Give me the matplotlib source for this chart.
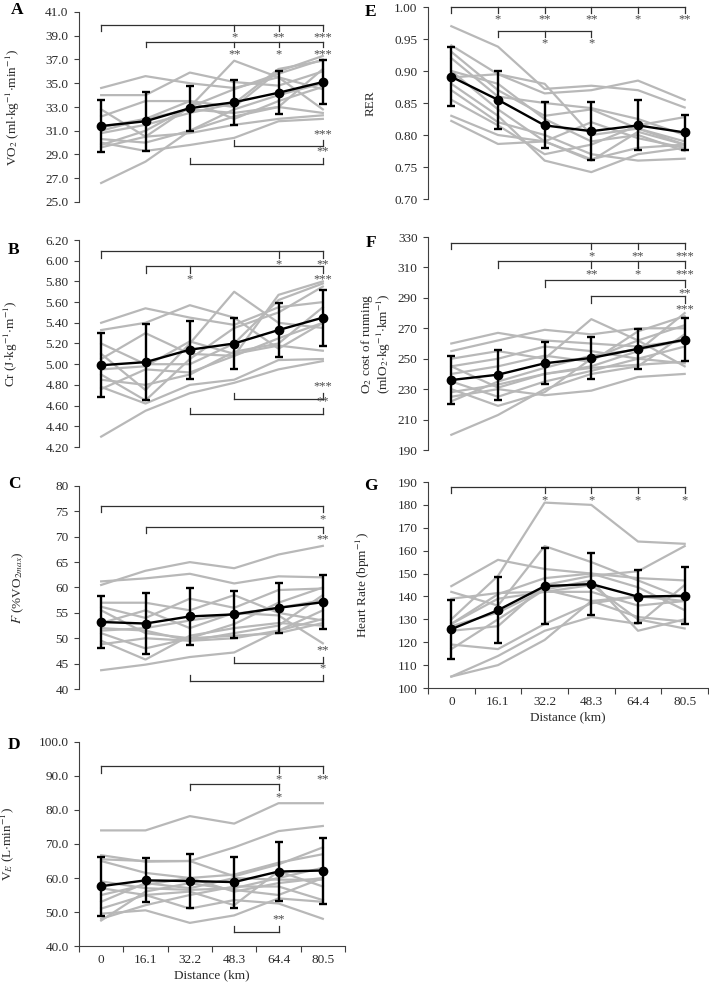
import matplotlib
matplotlib.use("Agg")
import matplotlib.pyplot as plt
import numpy as np

plt.rcParams['font.family'] = ['Liberation Serif', 'DejaVu Serif']
plt.rcParams['mathtext.fontset'] = 'stix'

distance = ["0", "16.1", "32.2", "48.3", "64.4", "80.5"]

# A - VO2
vo2_mean = [31.4, 31.8, 32.9, 33.4, 34.2, 35.1]
vo2_sd = [2.2, 2.5, 1.9, 1.9, 1.8, 1.85]
vo2_subjects = [
    [34.6, 35.6, 35.0, 34.6, 35.5, 34.5],
    [34.0, 34.0, 35.9, 35.1, 34.8, 36.0],
    [32.8, 30.5, 33.0, 36.9, 35.5, 32.8],
    [32.2, 33.5, 33.5, 33.0, 36.0, 37.3],
    [31.3, 32.0, 32.8, 32.5, 33.0, 32.5],
    [30.8, 31.5, 32.5, 33.3, 36.2, 36.9],
    [30.3, 30.0, 31.0, 32.8, 34.0, 35.0],
    [30.0, 29.3, 29.8, 30.4, 31.8, 32.0],
    [29.8, 31.0, 33.0, 34.5, 35.8, 37.0],
    [29.6, 30.5, 30.8, 31.5, 32.0, 32.3],
    [26.6, 28.4, 31.0, 32.2, 33.0, 36.2],
    [31.0, 32.0, 33.5, 32.0, 33.5, 34.7],
]

# E - RER
rer_mean = [0.891, 0.855, 0.815, 0.806, 0.815, 0.804]
rer_sd = [0.046, 0.045, 0.036, 0.045, 0.039, 0.027]
rer_subjects = [
    [0.970, 0.938, 0.872, 0.877, 0.870, 0.843],
    [0.940, 0.895, 0.865, 0.870, 0.885, 0.855],
    [0.930, 0.870, 0.830, 0.840, 0.810, 0.790],
    [0.920, 0.860, 0.850, 0.842, 0.825, 0.800],
    [0.900, 0.840, 0.790, 0.760, 0.805, 0.785],
    [0.890, 0.895, 0.880, 0.800, 0.810, 0.785],
    [0.880, 0.830, 0.760, 0.742, 0.770, 0.780],
    [0.870, 0.820, 0.800, 0.770, 0.760, 0.763],
    [0.855, 0.815, 0.770, 0.785, 0.815, 0.828],
    [0.830, 0.800, 0.790, 0.820, 0.795, 0.780],
    [0.822, 0.786, 0.790, 0.762, 0.780, 0.785],
    [0.900, 0.880, 0.825, 0.790, 0.800, 0.775],
]

# B - Cr
cr_mean = [4.99, 5.02, 5.14, 5.20, 5.33, 5.45]
cr_sd = [0.31, 0.37, 0.28, 0.25, 0.26, 0.27]
cr_subjects = [
    [5.40, 5.54, 5.45, 5.38, 5.55, 5.60],
    [5.33, 5.40, 5.57, 5.45, 5.15, 5.40],
    [5.10, 4.75, 5.20, 5.70, 5.40, 5.35],
    [5.05, 5.30, 5.10, 5.08, 5.67, 5.80],
    [4.95, 4.98, 5.22, 5.10, 5.18, 5.13],
    [4.90, 4.65, 5.05, 5.35, 5.50, 5.75],
    [4.78, 4.62, 4.80, 4.85, 5.04, 5.05],
    [4.76, 4.95, 4.92, 5.08, 5.25, 5.40],
    [4.30, 4.55, 4.72, 4.82, 4.95, 5.03],
    [5.20, 5.00, 5.00, 5.20, 5.62, 5.78],
    [4.85, 4.80, 4.90, 5.12, 5.20, 5.55],
]

# F - O2 cost of running
o2c_mean = [236.0, 239.5, 247.0, 250.5, 256.5, 262.5]
o2c_sd = [16.0, 16.5, 13.7, 14.0, 13.1, 14.1]
o2c_subjects = [
    [260, 267, 262, 260, 258, 262],
    [255, 262, 269, 266, 270, 270],
    [250, 255, 250, 276, 262, 245],
    [245, 231, 240, 245, 255, 280],
    [240, 245, 252, 248, 268, 278],
    [235, 225, 235, 242, 250, 258],
    [230, 219, 228, 250, 262, 272],
    [228, 233, 240, 244, 246, 248],
    [225, 230, 226, 229, 238, 240],
    [222, 235, 244, 252, 256, 262],
    [200, 213, 230, 240, 245, 266],
    [245, 250, 258, 255, 250, 247],
]

# C - fractional utilisation
f_mean = [53.2, 52.9, 54.3, 54.7, 56.0, 57.1]
f_sd = [5.1, 6.1, 5.6, 4.6, 4.9, 5.3]
f_subjects = [
    [61.2, 61.8, 62.7, 60.8, 62.2, 62.0],
    [60.5, 63.3, 65.0, 63.8, 66.5, 68.2],
    [57.0, 57.0, 55.5, 58.5, 55.0, 53.5],
    [56.2, 54.0, 57.8, 56.0, 59.5, 59.8],
    [55.5, 51.0, 50.0, 52.8, 57.0, 60.0],
    [53.0, 55.5, 52.0, 55.0, 54.5, 49.0],
    [52.0, 51.5, 49.5, 51.0, 52.5, 58.5],
    [51.5, 52.0, 53.5, 54.8, 56.0, 57.5],
    [51.0, 48.0, 50.0, 50.5, 51.0, 53.0],
    [49.5, 45.8, 50.5, 52.0, 53.0, 52.5],
    [48.8, 50.0, 49.5, 50.0, 51.5, 55.5],
    [43.7, 44.8, 46.3, 47.2, 51.5, 53.8],
]

# G - heart rate
hr_mean = [125.7, 134.0, 144.5, 145.4, 139.9, 140.3]
hr_sd = [12.9, 14.3, 16.6, 13.4, 11.7, 12.4]
hr_subjects = [
    [144.5, 156.0, 152.0, 150.0, 148.0, 147.0],
    [142.0, 136.0, 162.0, 155.0, 147.0, 139.0],
    [139.0, 141.5, 142.0, 142.0, 136.0, 138.0],
    [130.0, 149.0, 181.0, 180.0, 164.0, 163.0],
    [128.0, 141.0, 148.0, 150.0, 144.0, 134.0],
    [127.0, 133.0, 143.0, 138.0, 131.0, 129.0],
    [125.0, 127.0, 145.0, 149.0, 151.0, 162.0],
    [119.0, 117.0, 128.0, 137.0, 140.0, 138.0],
    [117.0, 130.0, 143.0, 147.0, 125.0, 130.0],
    [105.0, 114.0, 125.0, 131.0, 128.0, 145.0],
    [105.0, 110.0, 121.0, 138.0, 140.0, 140.0],
    [128.0, 139.0, 142.0, 145.0, 130.0, 126.0],
]

# D - ventilation
ve_mean = [57.6, 59.3, 59.1, 58.8, 61.9, 62.2]
ve_sd = [8.7, 6.5, 7.9, 7.5, 8.7, 9.7]
ve_subjects = [
    [74.0, 74.0, 78.2, 76.0, 82.0, 82.0],
    [66.7, 64.8, 65.0, 69.0, 73.8, 75.3],
    [65.5, 65.0, 65.0, 60.5, 64.0, 69.0],
    [65.0, 61.5, 60.0, 61.0, 64.5, 67.0],
    [59.0, 57.0, 56.5, 57.0, 60.0, 63.0],
    [57.0, 55.0, 51.0, 53.5, 52.5, 48.0],
    [55.0, 58.0, 60.0, 56.0, 58.5, 60.0],
    [53.0, 58.5, 57.0, 60.0, 59.5, 59.5],
    [51.0, 55.0, 56.0, 52.0, 62.0, 57.5],
    [49.5, 50.5, 46.8, 49.0, 54.0, 53.0],
    [48.0, 52.0, 55.0, 57.5, 57.5, 53.5],
    [47.5, 56.0, 58.5, 56.5, 55.0, 60.0],
]

# significance brackets: (y, from, to, {index: stars}, side)
vo2_sig = [(39.9, 0, 5, {3: "*", 4: "**", 5: "***"}, "top"),
           (38.5, 1, 5, {3: "**", 4: "*", 5: "***"}, "top"),
           (29.7, 3, 5, {5: "***"}, "bottom"),
           (28.2, 2, 5, {5: "**"}, "bottom")]
rer_sig = [(1.00, 0, 5, {1: "*", 2: "**", 3: "**", 4: "*", 5: "**"}, "top"),
           (0.962, 1, 3, {2: "*", 3: "*"}, "top")]
cr_sig = [(6.09, 0, 5, {4: "*", 5: "**"}, "top"),
          (5.945, 1, 5, {2: "*", 5: "***"}, "top"),
          (4.66, 3, 5, {5: "***"}, "bottom"),
          (4.52, 2, 5, {5: "**"}, "bottom")]
o2c_sig = [(326, 0, 5, {3: "*", 4: "**", 5: "***"}, "top"),
           (314, 1, 5, {3: "**", 4: "*", 5: "***"}, "top"),
           (301.5, 2, 5, {5: "**"}, "top"),
           (291, 3, 5, {5: "***"}, "top")]
f_sig = [(76.0, 0, 5, {5: "*"}, "top"),
         (71.9, 1, 5, {5: "**"}, "top"),
         (45.1, 3, 5, {5: "**"}, "bottom"),
         (41.6, 2, 5, {5: "*"}, "bottom")]
hr_sig = [(187.8, 0, 5, {2: "*", 3: "*", 4: "*", 5: "*"}, "top")]
ve_sig = [(92.8, 0, 5, {4: "*", 5: "**"}, "top"),
          (87.6, 2, 4, {4: "*"}, "top"),
          (44.1, 3, 4, {4: "**"}, "bottom")]

fig = plt.figure(figsize=(7.09, 9.88), dpi=100)
W, H = 709.0, 988.0

axis_col = '#404040'
text_col = '#2a2a2a'


def make_axes(x0, x1, y0, y1):
    return fig.add_axes([x0 / W, 1 - y1 / H, (x1 - x0) / W, (y1 - y0) / H])


def panel(ax, subjects, mean, sd, ylim, step, fmt, sig, ylabel, label_x, xaxis=False):
    x = np.arange(len(distance))
    for s in subjects:
        ax.plot(x, s, color='#b8b8b8', lw=1.6, zorder=1, clip_on=False)
    ax.errorbar(x, mean, yerr=sd, color='black', lw=1.7, elinewidth=1.7,
                capsize=2.8, capthick=1.7, marker='o', markersize=6,
                zorder=3, clip_on=False)
    rng = ylim[1] - ylim[0]
    dy = 0.03 * rng
    for y, a, b, stars, side in sig:
        ax.plot([a, b], [y, y], color='#303030', lw=0.9, clip_on=False)
        sgn = -1 if side == "top" else 1
        ticks = set([a, b]) | set(stars.keys())
        for t in ticks:
            ax.plot([t, t], [y, y + sgn * dy], color='#303030', lw=0.9, clip_on=False)
        for t, s in stars.items():
            if side == "top":
                ax.text(t, y - dy * 1.1, s, ha='center', va='top', fontsize=9,
                        color='#4a4a4a')
            else:
                ax.text(t, y + dy * 1.1, s, ha='center', va='bottom', fontsize=9,
                        color='#4a4a4a')
    ax.set_xlim(-0.5, len(distance) - 0.5)
    ax.set_ylim(*ylim)
    ticks = np.arange(ylim[0], ylim[1] + step / 2, step)
    ax.set_yticks(ticks)
    ax.set_yticklabels([fmt.format(t) for t in ticks])
    ax.tick_params(axis='y', direction='out', length=3.5, width=0.8,
                   colors=axis_col, labelsize=9.5, labelcolor=text_col, pad=4)
    for sp in ['top', 'right']:
        ax.spines[sp].set_visible(False)
    ax.spines['left'].set_color(axis_col)
    ax.spines['left'].set_linewidth(0.8)
    if xaxis:
        ax.spines['bottom'].set_color(axis_col)
        ax.spines['bottom'].set_linewidth(0.8)
        ax.set_xticks(np.arange(-0.5, len(distance), 1))
        ax.set_xticklabels([])
        ax.set_xticks(x, minor=True)
        ax.set_xticklabels(distance, minor=True)
        ax.tick_params(axis='x', which='major', direction='out', length=4,
                       width=0.8, colors=axis_col)
        ax.tick_params(axis='x', which='minor', length=0, labelsize=9.5,
                       labelcolor=text_col, pad=6)
        ax.set_xlabel("Distance (km)", fontsize=9.5, color=text_col, labelpad=2)
    else:
        ax.spines['bottom'].set_visible(False)
        ax.set_xticks([])
    ax.set_ylabel(ylabel, fontsize=9.5, color=text_col, linespacing=1.0)
    ax.yaxis.set_label_coords(label_x, 0.5)


axA = make_axes(79, 345, 12, 202)
panel(axA, vo2_subjects, vo2_mean, vo2_sd, (25.0, 41.0), 2.0, "{:.1f}", vo2_sig,
      r"VO$_2$ (ml$\cdot$kg$^{-1}$$\cdot$min$^{-1}$)", -0.215)

axB = make_axes(79, 345, 240, 447)
panel(axB, cr_subjects, cr_mean, cr_sd, (4.20, 6.20), 0.20, "{:.2f}", cr_sig,
      r"Cr (J$\cdot$kg$^{-1}$$\cdot$m$^{-1}$)", -0.22)

axC = make_axes(79, 345, 486, 689)
panel(axC, f_subjects, f_mean, f_sd, (40, 80), 5, "{:.0f}", f_sig,
      r"$\it{F}$ (%VO$_{2max}$)", -0.2)

axD = make_axes(79, 345, 742, 946)
panel(axD, ve_subjects, ve_mean, ve_sd, (40.0, 100.0), 10.0, "{:.1f}", ve_sig,
      r"V$_E$ (L$\cdot$min$^{-1}$)", -0.235, xaxis=True)

axE = make_axes(428, 708, 7, 199)
panel(axE, rer_subjects, rer_mean, rer_sd, (0.70, 1.00), 0.05, "{:.2f}", rer_sig,
      "RER", -0.185)

axF = make_axes(428, 708, 237, 450)
panel(axF, o2c_subjects, o2c_mean, o2c_sd, (190, 330), 20, "{:.0f}", o2c_sig,
      "O$_2$ cost of running\n(mlO$_2$$\\cdot$kg$^{-1}$$\\cdot$km$^{-1}$)", -0.125)

axG = make_axes(428, 708, 482, 688)
panel(axG, hr_subjects, hr_mean, hr_sd, (100, 190), 10, "{:.0f}", hr_sig,
      r"Heart Rate (bpm$^{-1}$)", -0.2, xaxis=True)

# panel letters
for letter, px, py in [("A", 17, 10), ("B", 14, 250), ("C", 14, 484), ("D", 14, 745),
                       ("E", 371, 12), ("F", 371, 243), ("G", 371, 486)]:
    fig.text(px / W, 1 - py / H, letter, fontsize=12.5, fontweight='bold',
             ha='center', va='center')

fig.savefig("out.png", dpi=100)
